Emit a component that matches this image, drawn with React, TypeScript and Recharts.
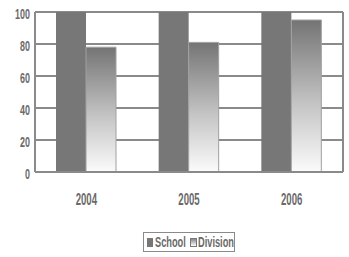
import { BarChart, Bar, XAxis, YAxis, CartesianGrid, Legend } from "recharts";

const years = ["2004", "2005", "2006"];
const school = [100, 100, 100];
const division = [78, 81, 95];
const yTicks = [0, 20, 40, 60, 80, 100];

const data = years.map((y, i) => ({ year: y, School: school[i], Division: division[i] }));

const FONT = "'Liberation Sans', Arial, sans-serif";

function XTick({ x, y, payload }: any) {
  return (
    <g transform={`translate(${x},${y + 25})`}>
      <text transform="scale(0.6,1)" textAnchor="middle" fill="#6a6a6a" fontSize={16} fontWeight="bold" fontFamily={FONT}>
        {payload.value}
      </text>
    </g>
  );
}

function YTick({ x, y, payload }: any) {
  return (
    <g transform={`translate(${x + 3},${y + 7})`}>
      <text transform="scale(0.64,1)" textAnchor="end" fill="#6a6a6a" fontSize={14} fontWeight="bold" fontFamily={FONT}>
        {payload.value}
      </text>
    </g>
  );
}

function LegendBox() {
  const txt = {
    position: "absolute" as const,
    top: 2,
    fontFamily: FONT,
    fontWeight: "bold" as const,
    fontSize: 14,
    lineHeight: "15px",
    color: "#6a6a6a",
    transform: "scaleX(0.66)",
    transformOrigin: "left",
    whiteSpace: "nowrap" as const,
  };
  return (
    <div
      style={{
        position: "relative",
        border: "1px solid #8a8a8a",
        height: 20,
        width: 92,
        boxSizing: "border-box",
      }}
    >
      <div style={{ position: "absolute", left: 3, top: 5, width: 6, height: 9, background: "#777" }} />
      <div style={{ ...txt, left: 11 }}>School</div>
      <div
        style={{
          position: "absolute",
          left: 46,
          top: 5,
          width: 5,
          height: 7,
          border: "1px solid #777",
          background: "linear-gradient(#888, #fff)",
        }}
      />
      <div style={{ ...txt, left: 54 }}>Division</div>
    </div>
  );
}

export default function App() {
  return (
    <div style={{ position: "absolute", left: 0, top: 0, width: 349, height: 257, background: "#fff" }}>
      <BarChart
        width={349}
        height={257}
        data={data}
        margin={{ top: 12, right: 0, left: 0, bottom: 0 }}
        barCategoryGap={21}
        barGap={0}
      >
        <defs>
          <linearGradient id="divGrad" x1="0" y1="0" x2="0" y2="1">
            <stop offset="0%" stopColor="#747474" />
            <stop offset="55%" stopColor="#c4c4c4" />
            <stop offset="100%" stopColor="#fbfbfb" />
          </linearGradient>
        </defs>
        <CartesianGrid vertical={false} stroke="#8a8a8a" strokeWidth={2} />
        <XAxis
          dataKey="year"
          height={85}
          tickLine={false}
          axisLine={{ stroke: "#8a8a8a", strokeWidth: 2 }}
          tick={<XTick />}
        />
        <YAxis
          width={35}
          domain={[0, 100]}
          ticks={yTicks}
          tickLine={false}
          axisLine={{ stroke: "#8a8a8a", strokeWidth: 2 }}
          tick={<YTick />}
        />
        <YAxis
          yAxisId="right"
          orientation="right"
          width={6}
          domain={[0, 100]}
          tick={false}
          tickLine={false}
          axisLine={{ stroke: "#8a8a8a", strokeWidth: 2 }}
        />
        <Legend
          verticalAlign="middle"
          align="center"
          content={() => <LegendBox />}
          wrapperStyle={{ top: 232, left: 143, width: 92 }}
        />
        <Bar dataKey="School" fill="#777777" isAnimationActive={false} />
        <Bar
          dataKey="Division"
          fill="url(#divGrad)"
          stroke="#a0a0a0"
          strokeWidth={1}
          isAnimationActive={false}
        />
      </BarChart>
    </div>
  );
}
